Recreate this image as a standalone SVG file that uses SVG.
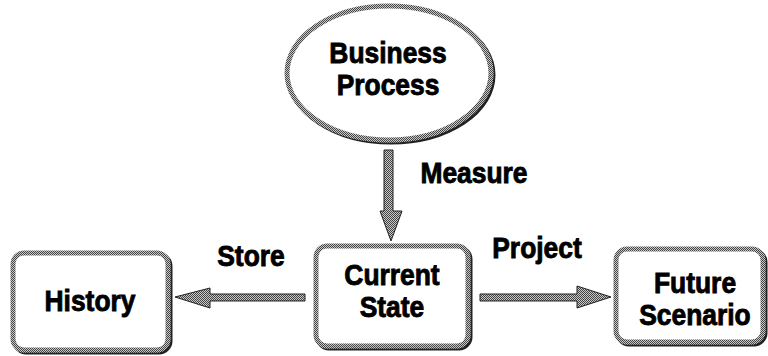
<svg xmlns="http://www.w3.org/2000/svg" width="768" height="356" viewBox="0 0 768 356">
<defs>
<pattern id="dith" width="2" height="2" patternUnits="userSpaceOnUse">
<rect width="2" height="2" fill="#c8c8c8"/>
<rect width="1" height="1" fill="#444"/>
<rect x="1" y="1" width="1" height="1" fill="#444"/>
</pattern>
<filter id="sh" x="-10%" y="-10%" width="130%" height="130%">
<feOffset in="SourceAlpha" dx="2" dy="2" result="o"/>
<feFlood flood-color="#222"/>
<feComposite in2="o" operator="in" result="s"/>
<feMerge><feMergeNode in="s"/><feMergeNode in="SourceGraphic"/></feMerge>
</filter>
</defs>
<style>
.node{fill:#fff;stroke:url(#dith);stroke-width:5;filter:url(#sh)}
.arrow{fill:url(#dith);stroke:#222;stroke-width:1}
.t{font-family:"Liberation Sans",Arial,sans-serif;font-weight:bold;font-size:30px;fill:#000;stroke:#000;stroke-width:0.9;text-anchor:middle}
</style>
<rect width="768" height="356" fill="#fff"/>
<g id="business-process">
<ellipse class="node" cx="389" cy="73" rx="102" ry="67"/>
<text class="t" transform="translate(388,63) scale(0.88,1)">Business</text>
<text class="t" transform="translate(388,95) scale(0.88,1)">Process</text>
</g>
<g id="current-state">
<rect class="node" x="316" y="246" width="152" height="100" rx="11"/>
<text class="t" transform="translate(392,285) scale(0.88,1)">Current</text>
<text class="t" transform="translate(392,317) scale(0.88,1)">State</text>
</g>
<g id="history">
<rect class="node" x="13" y="253" width="155" height="97" rx="11"/>
<text class="t" transform="translate(90,311) scale(0.88,1)">History</text>
</g>
<g id="future-scenario">
<rect class="node" x="616" y="249" width="147" height="93" rx="11"/>
<text class="t" transform="translate(695,293) scale(0.88,1)">Future</text>
<text class="t" transform="translate(695,325) scale(0.88,1)">Scenario</text>
</g>
<g id="connectors">
<polygon class="arrow" points="384,150 393,150 393,211 402,211 391,241 380,211 384,211"/>
<polygon class="arrow" points="305,294 210,294 210,288 175,297 210,308 210,301 305,301"/>
<polygon class="arrow" points="480,294 577,294 577,286 611,297 577,308 577,301 480,301"/>
<text class="t" transform="translate(474,183) scale(0.88,1)">Measure</text>
<text class="t" transform="translate(251,266) scale(0.88,1)">Store</text>
<text class="t" transform="translate(537,258) scale(0.88,1)">Project</text>
</g>
</svg>
